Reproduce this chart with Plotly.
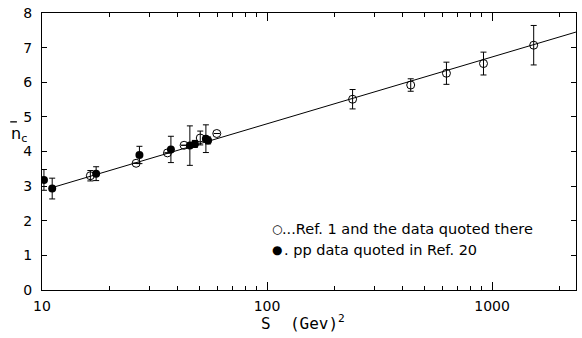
import numpy as np
import plotly.graph_objects as go

# Open circles: Ref. 1 and the data quoted there
open_s = [16.4, 26.2, 36.1, 42.8, 50.5, 59.8, 240, 435, 627, 916, 1531]
open_n = [3.30, 3.66, 3.96, 4.18, 4.39, 4.52, 5.51, 5.92, 6.26, 6.54, 7.07]
open_err = [0.15, 0.0, 0.0, 0.0, 0.2, 0.0, 0.28, 0.18, 0.32, 0.33, 0.57]

# Filled circles: pp data quoted in Ref. 20
fill_s = [10.2, 11.1, 17.4, 27.1, 37.4, 45.4, 47.8, 53.5, 54.7]
fill_n = [3.18, 2.93, 3.36, 3.90, 4.06, 4.17, 4.22, 4.37, 4.32]
fill_err = [0.3, 0.3, 0.2, 0.25, 0.38, 0.57, 0.1, 0.4, 0.1]

# Straight-line fit n = a + b*log10(s)
fit_a = 0.94
fit_b = 1.93
fit_s = [11.0, 2360.0]

y_ticks = [0, 1, 2, 3, 4, 5, 6, 7, 8]
x_major = [10, 100, 1000]
x_minor = [20, 30, 40, 50, 60, 70, 80, 90, 200, 300, 400, 500, 600, 700, 800, 900, 2000]

fig = go.Figure()
fig.add_trace(go.Scatter(
    x=fit_s, y=[fit_a + fit_b * np.log10(s) for s in fit_s],
    mode="lines", line=dict(color="black", width=1), showlegend=False))
fig.add_trace(go.Scatter(
    x=open_s, y=open_n, mode="markers",
    marker=dict(symbol="circle-open", size=8, color="black", line=dict(width=1)),
    error_y=dict(type="data", array=open_err, color="black", thickness=1, width=3),
    showlegend=False))
fig.add_trace(go.Scatter(
    x=fill_s, y=fill_n, mode="markers",
    marker=dict(symbol="circle", size=8, color="black"),
    error_y=dict(type="data", array=fill_err, color="black", thickness=1, width=3),
    showlegend=False))

font = dict(family="DejaVu Sans", size=14, color="black")

fig.update_layout(
    width=582, height=338,
    margin=dict(l=42, r=5, t=11, b=48),
    paper_bgcolor="white", plot_bgcolor="white",
    font=font,
    xaxis=dict(type="log", range=[1, 3.373], showgrid=False, zeroline=False,
               showline=True, linecolor="black", linewidth=1, mirror="ticks",
               ticks="inside", ticklen=8, tickcolor="black",
               tickvals=x_major, ticktext=[str(v) for v in x_major],
               ticklabelstandoff=3,
               tickfont=dict(family="DejaVu Sans", size=14),
               minor=dict(tickvals=x_minor, ticks="inside", ticklen=4, tickcolor="black")),
    yaxis=dict(range=[0, 8], showgrid=False, zeroline=False,
               showline=True, linecolor="black", linewidth=1, mirror="ticks",
               ticks="inside", ticklen=5, tickcolor="black",
               ticklabelstandoff=6,
               tickvals=y_ticks, tickfont=dict(family="DejaVu Sans", size=14)),
)

fig.add_annotation(xref="paper", yref="paper", x=0.488, y=-0.118, xanchor="center", yanchor="middle",
                   text="S&nbsp;&nbsp;(Gev)<sup>2</sup>", showarrow=False,
                   font=dict(family="DejaVu Sans Mono", size=16))
# y-axis title: n with overbar, subscript c
fig.add_annotation(xref="paper", yref="paper", x=-0.062, y=0.562, xanchor="left", yanchor="middle",
                   text="n<sub>c</sub>", showarrow=False,
                   font=dict(family="DejaVu Sans", size=16))
fig.add_shape(type="line", xref="paper", yref="paper", x0=-0.0595, x1=-0.0470, y0=0.607, y1=0.607,
              line=dict(color="black", width=1.3))

# legend
fig.add_annotation(xref="paper", yref="paper", x=0.44, y=0.222, xanchor="center", yanchor="middle",
                   text="\u25cb", showarrow=False, font=dict(family="DejaVu Sans", size=12))
fig.add_annotation(xref="paper", yref="paper", x=0.446, y=0.222, xanchor="left", yanchor="middle",
                   text="...Ref. 1 and the data quoted there", showarrow=False,
                   font=dict(family="DejaVu Sans", size=14.5))
fig.add_annotation(xref="paper", yref="paper", x=0.44, y=0.143, xanchor="center", yanchor="middle",
                   text="\u25cf", showarrow=False, font=dict(family="DejaVu Sans", size=12))
fig.add_annotation(xref="paper", yref="paper", x=0.449, y=0.143, xanchor="left", yanchor="middle",
                   text=". pp data quoted in Ref. 20", showarrow=False,
                   font=dict(family="DejaVu Sans", size=14.5))

# remove the default page margin so the 582x338 figure fills the window exactly
fig.write_html("out.html",
               config={"displayModeBar": False},
               post_script="document.body.style.margin='0';document.body.style.overflow='hidden';")
